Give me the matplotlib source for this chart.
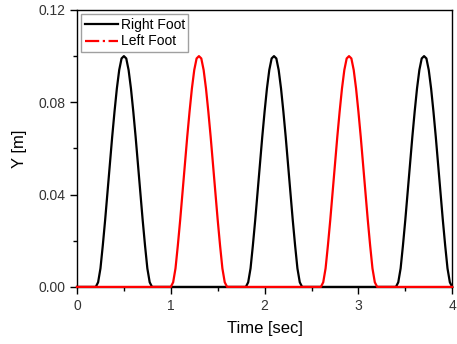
import matplotlib
matplotlib.use('Agg')
import matplotlib.pyplot as plt
from matplotlib.lines import Line2D
from matplotlib.ticker import MultipleLocator, FormatStrFormatter

plt.rcParams['font.family'] = ['Liberation Sans', 'DejaVu Sans']

# foot height over one swing phase, sampled every 0.025 s (swing lasts 0.6 s)
swing_dt = 0.025
swing_height = [0.000, 0.002, 0.008, 0.018, 0.029, 0.041, 0.053, 0.065, 0.076,
                0.086, 0.094, 0.099, 0.100, 0.099, 0.094, 0.086, 0.076, 0.065,
                0.053, 0.041, 0.029, 0.018, 0.008, 0.002, 0.000]

# swing start times of each foot
right_steps = [0.2, 1.8, 3.4]
left_steps = [1.0, 2.6]

t_start, t_end = 0.0, 4.0


def foot_track(steps):
    t = [t_start]
    y = [0.0]
    for s in steps:
        for i, h in enumerate(swing_height):
            t.append(s + i * swing_dt)
            y.append(h)
    t.append(t_end)
    y.append(0.0)
    return t, y


fig = plt.figure(figsize=(4.57, 3.44), dpi=100)
ax = fig.add_axes([0.1685, 0.166, 0.821, 0.805])

tr, yr = foot_track(right_steps)
tl, yl = foot_track(left_steps)
ax.plot(tr, yr, color='black', lw=1.6, clip_on=False, zorder=3)
ax.plot(tl, yl, color='red', lw=1.6, clip_on=False, zorder=4)

ax.set_xlim(0, 4)
ax.set_ylim(0, 0.12)
ax.xaxis.set_major_locator(MultipleLocator(1))
ax.xaxis.set_minor_locator(MultipleLocator(0.5))
ax.yaxis.set_major_locator(MultipleLocator(0.04))
ax.yaxis.set_minor_locator(MultipleLocator(0.02))
ax.yaxis.set_major_formatter(FormatStrFormatter('%.2f'))
ax.tick_params(which='major', direction='out', length=5, width=1, labelsize=10,
               labelcolor='#333333', top=False, right=False)
ax.tick_params(which='minor', direction='out', length=3, width=1,
               top=False, right=False)
for sp in ax.spines.values():
    sp.set_linewidth(1)
    sp.set_color('black')

ax.set_xlabel('Time [sec]', fontsize=12, labelpad=6)
ax.set_ylabel('Y [m]', fontsize=12, labelpad=8)

handles = [Line2D([], [], color='black', lw=1.6, ls='-'),
           Line2D([], [], color='red', lw=1.6, ls='-.')]
leg = ax.legend(handles, ['Right Foot', 'Left Foot'], loc='upper left',
                fontsize=10, frameon=True, fancybox=False, handlelength=2.4,
                handletextpad=0.2, borderpad=0.25, labelspacing=0.2,
                borderaxespad=0.3)
leg.get_frame().set_edgecolor('#888888')
leg.get_frame().set_linewidth(1)

fig.savefig('out.png', dpi=100)
